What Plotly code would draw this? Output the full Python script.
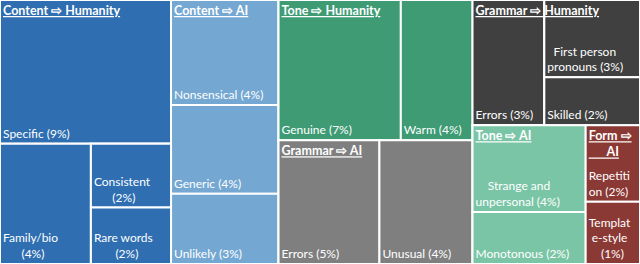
import plotly.graph_objects as go

# ---- data -------------------------------------------------------------
groups = ["Content ⇨ Humanity", "Content ⇨ AI", "Tone ⇨ Humanity", "Grammar ⇨ AI",
          "Grammar ⇨ Humanity", "Tone ⇨ AI", "Form ⇨ AI"]

items = ["Specific", "Family/bio", "Consistent", "Rare words",
         "Nonsensical", "Generic", "Unlikely",
         "Genuine", "Warm",
         "Errors", "Unusual",
         "Errors", "First person pronouns", "Skilled",
         "Strange and unpersonal", "Monotonous",
         "Repetition", "Template-style"]
# share (%) of each item, read from the tile areas (labels show them rounded)
shares = [9.45, 4.21, 1.97, 1.74,
          4.34, 3.67, 2.91,
          6.60, 3.87,
          4.80, 4.43,
          3.46, 2.84, 1.77,
          3.78, 2.26,
          1.60, 1.30]
item_group = [0, 0, 0, 0, 1, 1, 1, 2, 2, 3, 3, 4, 4, 4, 5, 5, 6, 6]

# ---- how labels wrap in their tiles (lines centred with no-break spaces) ----
NB = "\u00a0"
group_header = ["Content ⇨ Humanity", "Content ⇨ AI", "Tone ⇨ Humanity", "Grammar ⇨ AI",
                "Grammar ⇨ Humanity", "Tone ⇨ AI", "Form ⇨<br>" + NB * 6 + "AI"]
item_lines = ["Specific", "Family/bio", "Consistent", "Rare words",
              "Nonsensical", "Generic", "Unlikely",
              "Genuine", "Warm",
              "Errors", "Unusual",
              "Errors", NB * 2 + "First person<br>pronouns", "Skilled",
              NB * 4 + "Strange and<br>unpersonal", "Monotonous",
              "Repetiti<br>on", "Templat<br>" + NB + "e-style"]
pct_sep = [" ", "<br>" + NB * 6, "<br>" + NB * 6, "<br>" + NB * 7, " ", " ", " ", " ", " ",
           " ", " ", " ", " ", " ", " ", " ", " ", "<br>" + NB * 4]

# ---- styles -----------------------------------------------------------
group_colors = ["#2E6EB1", "#74A7D1", "#3E9B74", "#7F7F7F", "#404040", "#7AC5A6", "#8B3935"]
FONT = "Lato"

# ---- hierarchy (frames only steer the slice/dice tiling) --------------
group_ids = [f"G{i}" for i in range(len(groups))]
group_parent = ["", "", "C3", "C3", "C4", "C4b", "C4b"]
item_ids = [f"I{i}" for i in range(len(items))]
item_parent = ["G0", "G0b", "G0c", "G0c", "G1", "G1", "G1", "G2", "G2", "G3", "G3",
               "G4", "G4b", "G4b", "G5", "G5", "G6", "G6"]
top_frames = ["C3", "C4", "C4b"]
top_frame_parent = ["", "", "C4"]
inner_frames = ["G0b", "G0c", "G4b"]
inner_frame_parent = ["G0", "G0b", "G4"]
inner_frame_color = [group_colors[0], group_colors[0], group_colors[4]]

# main trace: every item tile
ids = group_ids + item_ids + top_frames + inner_frames
parents = group_parent + item_parent + top_frame_parent + inner_frame_parent
labels = groups + items + top_frames + inner_frames
values = [0] * len(groups) + shares + [0] * (len(top_frames) + len(inner_frames))
colors = (group_colors + [group_colors[g] for g in item_group]
          + ["#FFFFFF"] * len(top_frames) + inner_frame_color)
item_text = [f"{l}{s}({v:.0f}%)" for l, s, v in zip(item_lines, pct_sep, shares)]
main_text = [""] * len(groups) + item_text + [""] * (len(top_frames) + len(inner_frames))

# title trace: same tiling down to group level, groups are the leaves
group_sum = [sum(v for v, g in zip(shares, item_group) if g == k) for k in range(len(groups))]
h_ids = group_ids + top_frames
h_parents = group_parent + top_frame_parent
h_labels = groups + top_frames
h_values = group_sum + [0] * len(top_frames)
h_text = [f"<b><u>{h}</u></b>" for h in group_header] + [""] * len(top_frames)

common = dict(branchvalues="remainder", sort=False,
              tiling=dict(packing="slice-dice", pad=0),
              pathbar=dict(visible=False),
              texttemplate="%{text}", hoverinfo="skip")

fig = go.Figure()
fig.add_trace(go.Treemap(
    ids=ids, parents=parents, labels=labels, values=values, text=main_text, **common,
    marker=dict(colors=colors, depthfade=False, line=dict(color="white", width=2),
                pad=dict(t=0, l=0, r=0, b=0)),
    textposition="bottom left",
    textfont=dict(family=FONT, size=12, color="white"),
))
fig.add_trace(go.Treemap(
    ids=h_ids, parents=h_parents, labels=h_labels, values=h_values, text=h_text, **common,
    marker=dict(colors=["rgba(0,0,0,0)"] * len(h_ids), depthfade=False,
                line=dict(color="rgba(0,0,0,0)", width=0),
                pad=dict(t=0, l=0, r=0, b=0)),
    textposition="top left",
    textfont=dict(family=FONT, size=12.5, color="white"),
))
fig.update_layout(
    width=640, height=264,
    margin=dict(l=0, r=0, t=0, b=0),
    paper_bgcolor="white",
    hovermode=False,
)
fig.write_html("out.html", config={"displayModeBar": False, "staticPlot": True},
               post_script="document.body.style.margin='0px';")
